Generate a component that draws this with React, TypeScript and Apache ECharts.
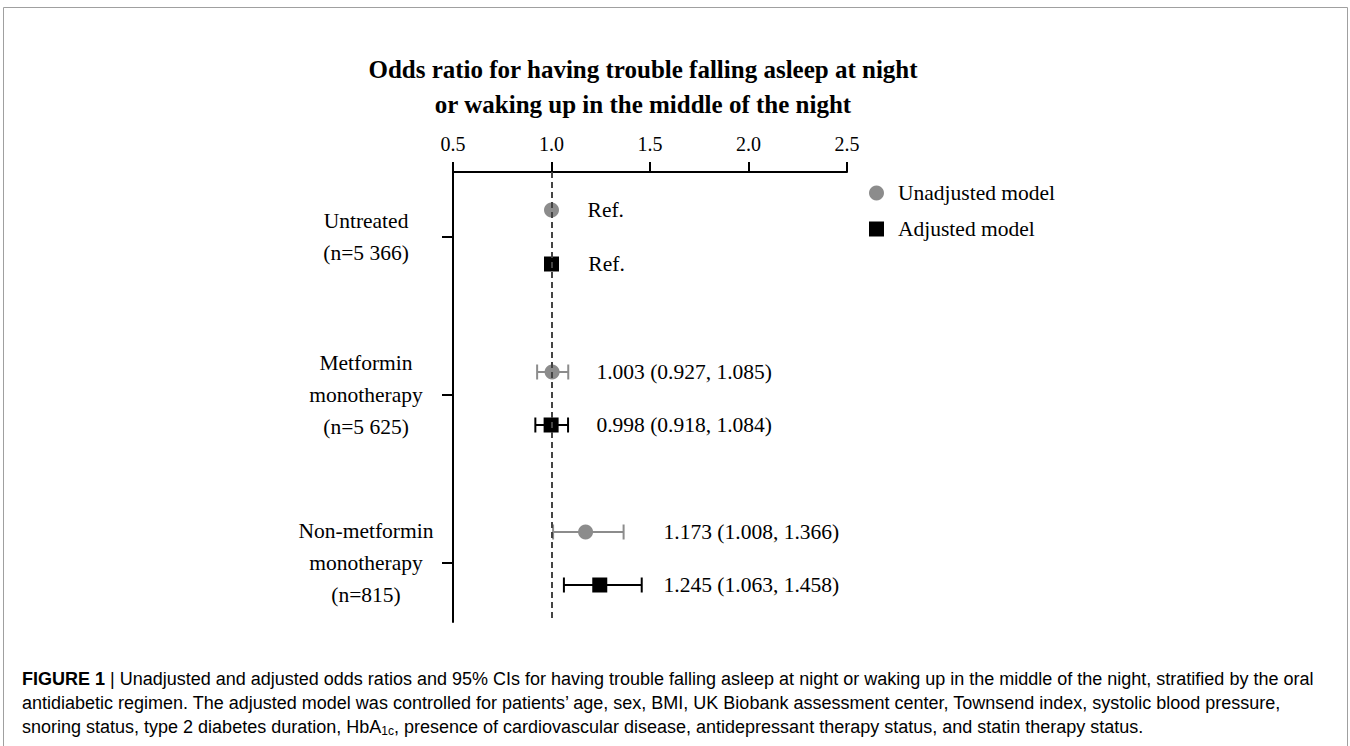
import React, { useEffect, useRef } from "react";
import * as echarts from "echarts";

const titleLines = [
  "Odds ratio for having trouble falling asleep at night",
  "or waking up in the middle of the night",
];
const xTicks = [0.5, 1.0, 1.5, 2.0, 2.5];
const groupLabels = [
  "Untreated\n(n=5 366)",
  "Metformin\nmonotherapy\n(n=5 625)",
  "Non-metformin\nmonotherapy\n(n=815)",
];
const groupPos = [6.5, 22.3, 39.1];
const unadjRow = [3.8, 20.0, 36.0];
const adjRow = [9.2, 25.3, 41.3];
const unadjOR = [1.0, 1.003, 1.173];
const unadjLo = [null, 0.927, 1.008];
const unadjHi = [null, 1.085, 1.366];
const adjOR = [1.0, 0.998, 1.245];
const adjLo = [null, 0.918, 1.063];
const adjHi = [null, 1.084, 1.458];
const unadjText = ["Ref.", "1.003 (0.927, 1.085)", "1.173 (1.008, 1.366)"];
const adjText = ["Ref.", "0.998 (0.918, 1.084)", "1.245 (1.063, 1.458)"];
const unadjTextAt = [1.183, 1.228, 1.569];
const adjTextAt = [1.187, 1.228, 1.569];
const legendNames = ["Unadjusted model", "Adjusted model"];
const captionLines = [
  [
    { t: "FIGURE 1", s: "b" },
    { t: " | ", s: "bar" },
    {
      t: "Unadjusted and adjusted odds ratios and 95% CIs for having trouble falling asleep at night or waking up in the middle of the night, stratified by the oral",
      s: "n",
    },
  ],
  [
    {
      t: "antidiabetic regimen. The adjusted model was controlled for patients\u2019 age, sex, BMI, UK Biobank assessment center, Townsend index, systolic blood pressure,",
      s: "n",
    },
  ],
  [
    { t: "snoring status, type 2 diabetes duration, HbA", s: "n" },
    { t: "1c", s: "sub" },
    {
      t: ", presence of cardiovascular disease, antidepressant therapy status, and statin therapy status.",
      s: "n",
    },
  ],
];

const SERIF = "'Liberation Serif', 'Times New Roman', serif";
const SANS = "'Liberation Sans', Arial, sans-serif";
const GRAY = "#8c8c8c";
const FS = 21.5;

export default function App() {
  const ref = useRef<HTMLDivElement>(null);
  useEffect(() => {
    if (!ref.current) return;
    const chart = echarts.init(ref.current, null, { renderer: "svg" });

    const errData = (lo: any[], hi: any[], rows: number[]) =>
      lo
        .map((l, i) => (l == null ? null : [l, hi[i], rows[i]]))
        .filter((d) => d != null);

    const errSeries = (name: string, data: any[], color: string, extra: any = {}) => ({
      type: "custom",
      name,
      z: 2,
      data,
      encode: { x: [0, 1], y: 2 },
      renderItem: (params: any, api: any) => {
        const a = api.coord([api.value(0), api.value(2)]);
        const b = api.coord([api.value(1), api.value(2)]);
        const h = 7.5;
        const st = { stroke: color, lineWidth: 2 };
        return {
          type: "group",
          children: [
            { type: "line", shape: { x1: a[0], y1: a[1], x2: b[0], y2: b[1] }, style: st },
            { type: "line", shape: { x1: a[0], y1: a[1] - h, x2: a[0], y2: a[1] + h }, style: st },
            { type: "line", shape: { x1: b[0], y1: b[1] - h, x2: b[0], y2: b[1] + h }, style: st },
          ],
        };
      },
      ...extra,
    });

    const textSeries = (at: number[], rows: number[], texts: string[]) => ({
      type: "custom",
      z: 4,
      data: at.map((x, i) => [x, rows[i]]),
      encode: { x: 0, y: 1 },
      renderItem: (params: any, api: any) => {
        const p = api.coord([api.value(0), api.value(1)]);
        return {
          type: "text",
          x: p[0],
          y: p[1],
          style: {
            text: texts[params.dataIndex],
            fill: "#000",
            font: `${FS}px ${SERIF}`,
            textAlign: "left",
            textVerticalAlign: "middle",
          },
        };
      },
    });

    const captionRich: any = {
      b: { fontFamily: SANS, fontSize: 18, fontWeight: "bold", color: "#222" },
      bar: { fontFamily: SANS, fontSize: 18, color: "#999" },
      n: { fontFamily: SANS, fontSize: 18, color: "#333" },
      sub: { fontFamily: SANS, fontSize: 12, color: "#333", verticalAlign: "bottom", padding: [7, 0, 0, 0] },
    };

    const option: any = {
      animation: false,
      backgroundColor: "#fff",
      grid: { left: 453, top: 172, width: 394, height: 450 },
      xAxis: {
        type: "value",
        position: "top",
        min: 0.5,
        max: 2.5,
        interval: 0.5,
        axisLine: { show: true, onZero: false, lineStyle: { color: "#000", width: 2 } },
        axisTick: { show: true, length: 10, lineStyle: { color: "#000", width: 2 } },
        axisLabel: {
          color: "#000",
          fontFamily: SERIF,
          fontSize: 20,
          margin: 18,
          formatter: (v: number) => v.toFixed(1),
        },
        splitLine: { show: false },
      },
      yAxis: {
        type: "value",
        inverse: true,
        min: 0,
        max: 45,
        axisLine: { show: true, onZero: false, lineStyle: { color: "#000", width: 2 } },
        axisTick: { show: true, length: 11, customValues: groupPos, lineStyle: { color: "#000", width: 2 } },
        axisLabel: {
          customValues: groupPos,
          color: "#000",
          fontFamily: SERIF,
          fontSize: FS,
          lineHeight: 32,
          align: "center",
          margin: 87,
          formatter: (v: number) => {
            const i = groupPos.findIndex((g) => Math.abs(g - v) < 1e-6);
            return i >= 0 ? groupLabels[i] : "";
          },
        },
        splitLine: { show: false },
      },
      legend: {
        data: legendNames.map((n, i) => ({ name: n, icon: i === 0 ? "circle" : "rect" })),
        orient: "vertical",
        left: 864,
        top: 177,
        itemWidth: 15,
        itemHeight: 15,
        itemGap: 14,
        selectedMode: false,
        textStyle: { fontFamily: SERIF, fontSize: FS, color: "#000", padding: [0, 0, 0, 9] },
      },
      graphic: [
        {
          type: "rect",
          shape: { x: 3.5, y: 7.5, width: 1344, height: 760 },
          style: { fill: "none", stroke: "#a0a0a0", lineWidth: 1 },
          silent: true,
        },
        ...titleLines.map((t, i) => ({
          type: "text",
          x: 643,
          y: 69 + i * 35,
          style: {
            text: t,
            font: `bold 25px ${SERIF}`,
            fill: "#000",
            textAlign: "center",
            textVerticalAlign: "middle",
          },
        })),
        ...captionLines.map((line, i) => ({
          type: "text",
          x: 22,
          y: 679 + i * 24,
          style: {
            text: line.map((seg) => `{${seg.s}|${seg.t}}`).join(""),
            rich: captionRich,
            textAlign: "left",
            textVerticalAlign: "middle",
          },
        })),
      ],
      series: [
        errSeries("unadjErr", errData(unadjLo, unadjHi, unadjRow), GRAY, {
          markLine: {
            silent: true,
            symbol: "none",
            label: { show: false },
            lineStyle: { color: "#444", width: 2, type: [6, 4] },
            data: [{ xAxis: 1.0 }],
          },
        }),
        errSeries("adjErr", errData(adjLo, adjHi, adjRow), "#000"),
        {
          type: "scatter",
          name: legendNames[0],
          z: 3,
          symbol: "circle",
          symbolSize: 15,
          itemStyle: { color: GRAY, opacity: 1 },
          data: unadjOR.map((v, i) => [v, unadjRow[i]]),
        },
        {
          type: "scatter",
          name: legendNames[1],
          z: 3,
          symbol: "rect",
          symbolSize: 15,
          itemStyle: { color: "#000", opacity: 1 },
          data: adjOR.map((v, i) => [v, adjRow[i]]),
        },
        textSeries(unadjTextAt, unadjRow, unadjText),
        textSeries(adjTextAt, adjRow, adjText),
      ],
    };
    chart.setOption(option);
    return () => chart.dispose();
  }, []);
  return (
    <div
      ref={ref}
      style={{ position: "absolute", left: 0, top: 0, width: 1350, height: 746, background: "#fff" }}
    />
  );
}
